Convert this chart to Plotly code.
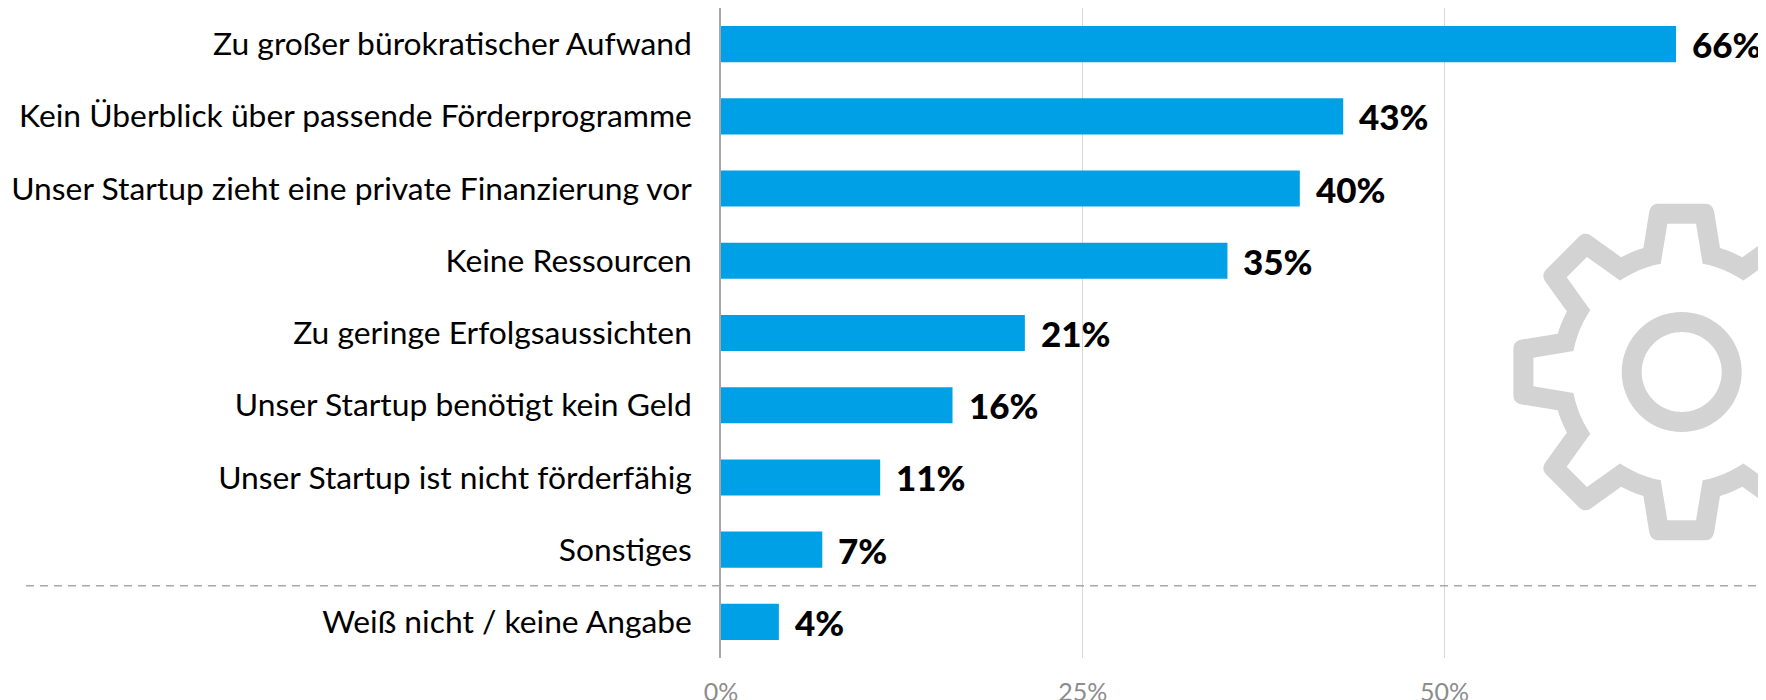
import math
import plotly.graph_objects as go

categories = ["Zu großer bürokratischer Aufwand", "Kein Überblick über passende Förderprogramme",
              "Unser Startup zieht eine private Finanzierung vor", "Keine Ressourcen",
              "Zu geringe Erfolgsaussichten", "Unser Startup benötigt kein Geld",
              "Unser Startup ist nicht förderfähig", "Sonstiges", "Weiß nicht / keine Angabe"]
values = [66, 43, 40, 35, 21, 16, 11, 7, 4]
x_ticks = [0, 25, 50, 75]
x_tick_labels = ["0%", "25%", "50%", "75%"]

# the page has an 8 px body margin, so the figure is 8 px smaller than the window
W, H = 1758, 692
ML, MR, MT, MB = 713, 0, 0, 42
OFFSET = 8
X_MAX = (W - ML) / 14.47
FONT = "Lato"
GEAR = "#d3d3d3"


def rot(p, a):
    c, s = math.cos(a), math.sin(a)
    return (p[0] * c - p[1] * s, p[0] * s + p[1] * c)


def gear_path(tooth, arc_steps=6):
    pts = []
    for k in range(8):
        a = -k * math.pi / 4
        pts += [rot(p, a) for p in tooth]
        end = tooth[-1]
        r = math.hypot(*end)
        a0 = math.atan2(end[1], end[0]) + a
        nxt = rot(tooth[0], a - math.pi / 4)
        a1 = math.atan2(nxt[1], nxt[0])
        while a1 > a0:
            a1 -= 2 * math.pi
        for i in range(1, arc_steps):
            t = a0 + (a1 - a0) * i / arc_steps
            pts.append((r * math.cos(t), r * math.sin(t)))
    return "M" + " L".join(f"{x:.2f},{y:.2f}" for x, y in pts) + " Z"


def circle_path(r, n=72):
    pts = [(r * math.cos(2 * math.pi * i / n), r * math.sin(2 * math.pi * i / n)) for i in range(n)]
    return "M" + " L".join(f"{x:.2f},{y:.2f}" for x, y in pts) + " Z"


def rounded_tip(x0, y0, cx, cy, x1, y1, n=5):
    out = []
    for i in range(n + 1):
        t = i / n
        out.append(((1 - t) ** 2 * x0 + 2 * t * (1 - t) * cx + t * t * x1,
                    (1 - t) ** 2 * y0 + 2 * t * (1 - t) * cy + t * t * y1))
    return out


outer_tooth = ([(-38.3, 124)] + rounded_tip(-32.5, 160, -31, 168.3, -23.3, 168.3)
               + rounded_tip(23.3, 168.3, 31, 168.3, 32.5, 160) + [(38.3, 124)])
inner_tooth = [(-21, 108.3), (-14.3, 148.3), (14.3, 148.3), (21, 108.3)]
gear_d = " ".join([gear_path(outer_tooth), gear_path(inner_tooth), circle_path(60), circle_path(40)])

fig = go.Figure(go.Bar(
    x=values, y=categories, orientation="h", width=0.5,
    marker=dict(color="#00a0e6", line=dict(width=0)), showlegend=False, hoverinfo="skip"))

for c, v in zip(categories, values):
    fig.add_annotation(x=v, y=c, text=f"{v}%", showarrow=False, xanchor="left", yanchor="middle",
                       xshift=14, font=dict(family=FONT, size=35, color="#000000", weight=900))

fig.add_shape(type="path", path=gear_d, xref="paper", yref="paper", xsizemode="pixel", ysizemode="pixel",
              xanchor=(1681.7 - OFFSET - ML) / (W - ML), yanchor=(H - MB - (372 - OFFSET)) / (H - MT - MB),
              fillcolor=GEAR, fillrule="evenodd", line=dict(width=0), layer="below")
fig.add_shape(type="line", xref="paper", yref="y", x0=(26 - OFFSET - ML) / (W - ML), x1=1, y0=7.5, y1=7.5,
              line=dict(color="#a8a8a8", width=1.5, dash="8px,6px"), layer="above")

fig.update_layout(
    width=W, height=H, autosize=False,
    margin=dict(l=ML, r=MR, t=MT, b=MB, autoexpand=False),
    paper_bgcolor="#ffffff", plot_bgcolor="#ffffff",
    font=dict(family=FONT, color="#000000"),
    xaxis=dict(range=[0, X_MAX], tickvals=x_ticks, ticktext=x_tick_labels, showgrid=True, gridcolor="#d8d8d8",
               gridwidth=1, zeroline=False, showline=False, ticks="", ticklabelstandoff=17,
               tickfont=dict(family=FONT, size=25, color="#8c8c8c")),
    yaxis=dict(categoryorder="array", categoryarray=categories, autorange="reversed", showgrid=False,
               zeroline=False, showline=True, linecolor="#a6a6a6", linewidth=1.5, ticks="", ticklabelstandoff=21,
               tickfont=dict(family=FONT, size=31.8, color="#000000")),
)
fig.write_html("out.html")
